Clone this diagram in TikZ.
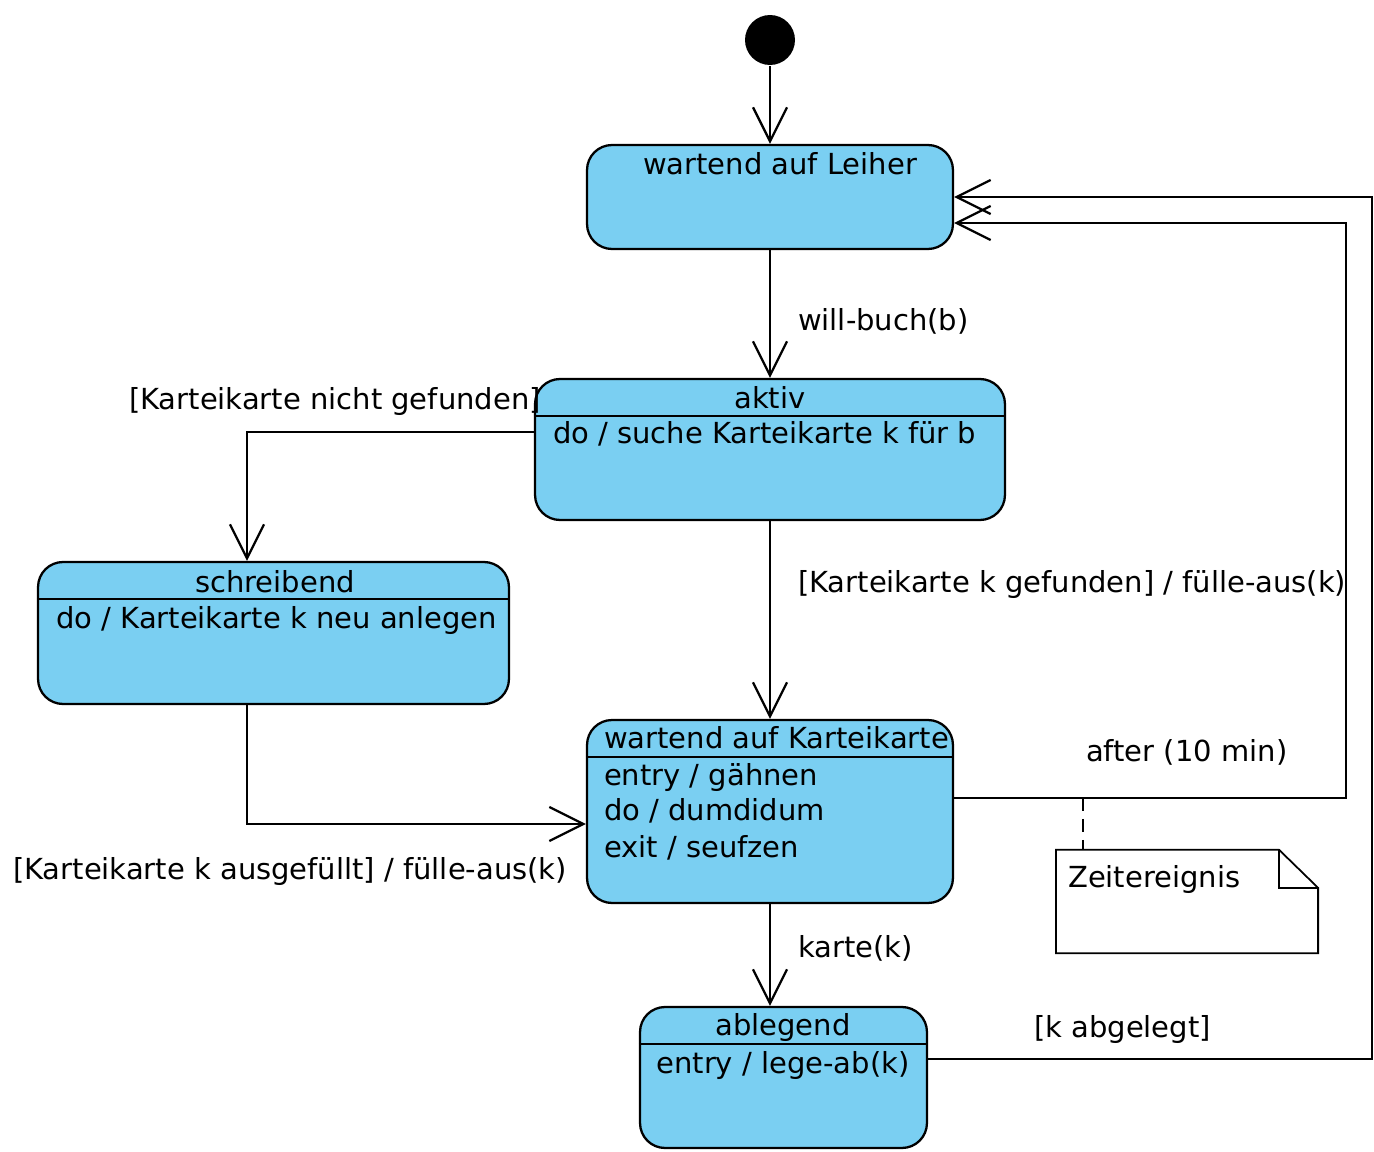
\documentclass[tikz,border=0pt]{standalone}
\usepackage{fontspec}
\setmainfont{DejaVu Sans}
\usetikzlibrary{arrows.meta}
\definecolor{statefill}{RGB}{122,207,242}
\tikzset{
	state/.style={draw=black, fill=statefill, rounded corners=0.5cm, inner sep=0pt},
	initial/.style={circle, fill=black, minimum size=1cm, inner sep=0pt},
	trans/.style={draw=black, -{Straight Barb[length=0.68cm,width=0.68cm]}},
	txt/.style={inner sep=0pt, font=\fontsize{16.5}{20}\selectfont},
	notebox/.style={inner sep=0pt, minimum width=5.2cm, minimum height=2.02cm},
	noteline/.style={draw=black, line width=1pt},
}

\begin{document}
\begin{tikzpicture}[x=0.02cm, y=-0.02cm, line width=1.3pt]
	\useasboundingbox (0,0) rectangle (1374,1152);
	% states
	\node[initial] (start) at (770,40) {};
	\node[state, minimum width=7.32cm, minimum height=2.08cm] (leiher) at (770,197) {};
	\node[state, minimum width=9.4cm, minimum height=2.82cm] (aktiv) at (770,449.5) {};
	\node[state, minimum width=9.42cm, minimum height=2.84cm] (schreibend) at (273.5,633) {};
	\node[state, minimum width=7.32cm, minimum height=3.66cm] (wartkk) at (770,811.5) {};
	\node[state, minimum width=5.74cm, minimum height=2.82cm] (ablegend) at (783.5,1077.5) {};
	\foreach \s in {aktiv,schreibend,wartkk,ablegend}
		\draw ([yshift=-0.76cm]\s.north west) -- ([yshift=-0.76cm]\s.north east);
	% state texts
	\node[txt, anchor=base] (tleiher) at (780,175) {wartend auf Leiher};
	\node[txt, anchor=base] (taktiv) at (770,409) {aktiv};
	\node[txt, anchor=base west] (daktiv) at (552,443) {do / suche Karteikarte k für b};
	\node[txt, anchor=base] (tschreib) at (275,592) {schreibend};
	\node[txt, anchor=base west] (dschreib) at (55,628) {do / Karteikarte k neu anlegen};
	\node[txt, anchor=base west] (twartkk) at (603,748) {wartend auf Karteikarte};
	\node[txt, anchor=base west] (ewartkk) at (603,785) {entry / gähnen};
	\node[txt, anchor=base west] (dwartkk) at (603,820) {do / dumdidum};
	\node[txt, anchor=base west] (xwartkk) at (603,857) {exit / seufzen};
	\node[txt, anchor=base] (tableg) at (783,1035) {ablegend};
	\node[txt, anchor=base] (eableg) at (783,1073) {entry / lege-ab(k)};
	% note
	\node[notebox] (note) at (1187,901.5) {};
	\draw[noteline] (note.north west) -- ([xshift=-0.78cm]note.north east)
		-- ([yshift=-0.76cm]note.north east) -- (note.south east) -- (note.south west) -- cycle;
	\draw[noteline] ([xshift=-0.78cm]note.north east) |- ([yshift=-0.76cm]note.north east);
	\node[txt, anchor=base west] (tnote) at (1067,887) {Zeitereignis};
	% transitions
	\coordinate (k1) at (247,432);
	\coordinate (k2) at (247,824);
	\coordinate (k3) at (1346,798);
	\coordinate (k4) at (1346,223);
	\coordinate (k5) at (1372,1059);
	\coordinate (k6) at (1372,197);
	\coordinate (k7) at (1083,798);
	\draw[trans] (start.south) -- (start.south |- leiher.north);
	\draw[trans] (leiher) -- (aktiv);
	\draw[trans] (aktiv) -- (wartkk);
	\draw[trans] (wartkk.south) -- (wartkk.south |- ablegend.north);
	\draw[trans] (aktiv.west |- k1) -| (schreibend.north -| k1);
	\draw[trans] (schreibend.south -| k2) |- (wartkk.west |- k2);
	\draw[trans] (wartkk.east |- k3) -- (k3) -- (k4) -- (leiher.east |- k4);
	\draw[trans] (ablegend.east |- k5) -- (k5) -- (k6) -- (leiher.east |- k6);
	\draw[dash pattern=on 0.26cm off 0.16cm] (k7) -- (note.north -| k7);
	% labels
	\node[txt, anchor=base west] (lwill) at (797,331) {will-buch(b)};
	\node[txt, anchor=base west] (lnicht) at (128,410) {[Karteikarte nicht gefunden]};
	\node[txt, anchor=base west] (lgef) at (797,592) {[Karteikarte k gefunden] / fülle-aus(k)};
	\node[txt, anchor=base west] (lafter) at (1085,761) {after (10 min)};
	\node[txt, anchor=base west] (lausg) at (12,879) {[Karteikarte k ausgefüllt] / fülle-aus(k)};
	\node[txt, anchor=base west] (lkarte) at (797,957) {karte(k)};
	\node[txt, anchor=base west] (lableg) at (1033,1037) {[k abgelegt]};
\end{tikzpicture}
\end{document}
